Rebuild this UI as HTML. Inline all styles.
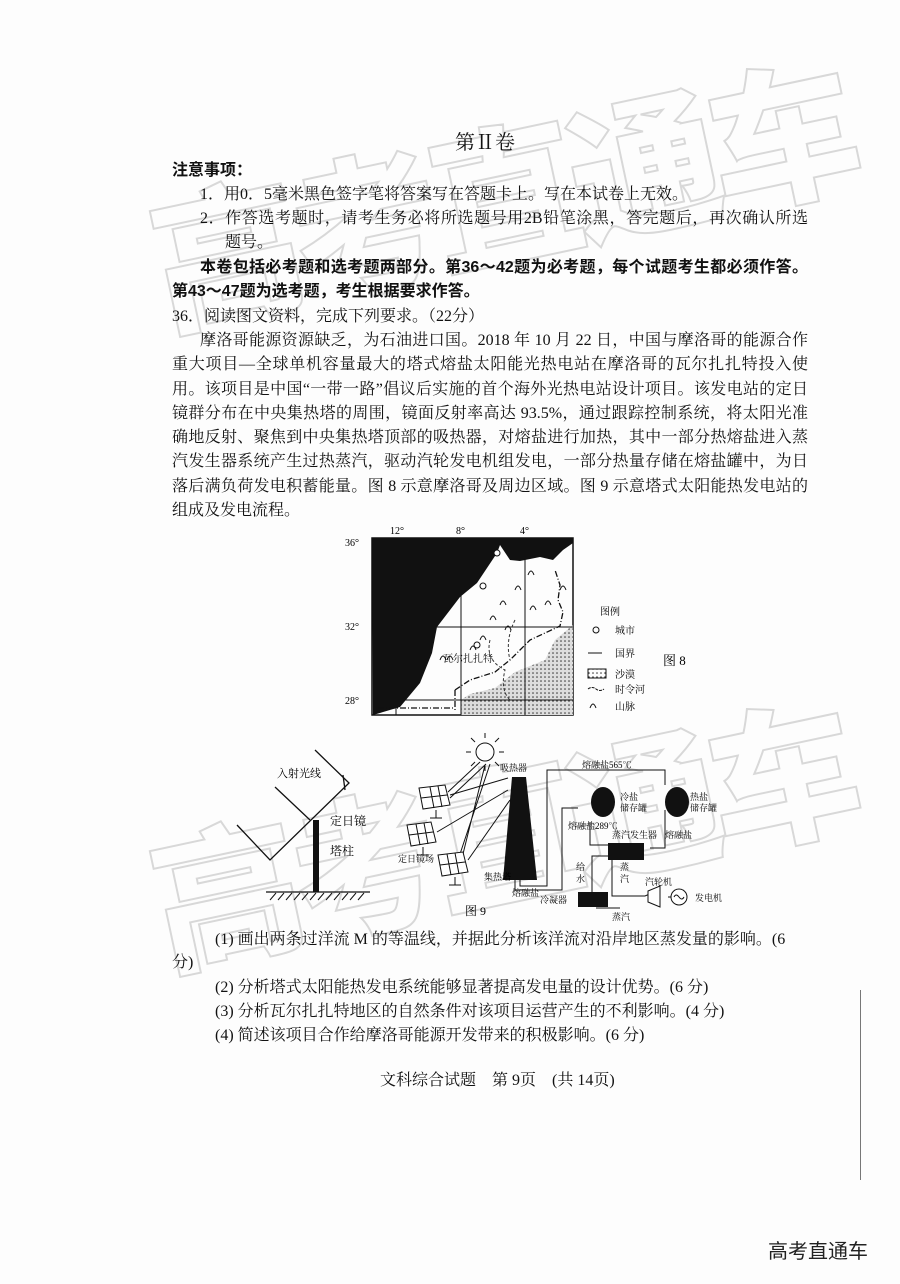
<!DOCTYPE html>
<html><head><meta charset="utf-8">
<style>
body{margin:0;background:#fff;}
#pg{position:relative;width:900px;height:1284px;overflow:hidden;background:#fdfdfd;font-family:"Liberation Serif","Noto Serif CJK SC","Noto Sans CJK SC",serif;color:#111;}
.l{position:absolute;font-size:16px;line-height:20px;white-space:nowrap;}
.j{text-align:justify;text-align-last:justify;white-space:normal;}
.b{font-weight:bold;font-family:"Liberation Sans","Noto Sans CJK SC",sans-serif;}
.wm{position:absolute;font-family:"Noto Sans CJK SC",sans-serif;font-weight:900;color:rgba(255,255,255,0);-webkit-text-stroke:2px #bbb;white-space:nowrap;}
svg text{font-family:"Liberation Serif","Noto Serif CJK SC",serif;}
</style></head><body><div id="pg">

<div class="wm" style="left:145px;top:80px;font-size:150px;letter-spacing:-8px;transform:rotate(-12deg);opacity:.55">高考直通车</div>
<div class="wm" style="left:145px;top:720px;font-size:150px;letter-spacing:-8px;transform:rotate(-12deg);opacity:.55">高考直通车</div>

<div class="l" style="left:455px;top:131px;font-size:20px;line-height:24px">第Ⅱ卷</div>
<div class="l b" style="left:172px;top:161px">注意事项：</div>
<div class="l" style="left:200px;top:185px">1．用0．5毫米黑色签字笔将答案写在答题卡上。写在本试卷上无效。</div>
<div class="l j" style="left:200px;top:209px;width:608px">2．作答选考题时，请考生务必将所选题号用2B铅笔涂黑，答完题后，再次确认所选</div>
<div class="l" style="left:225px;top:233px">题号。</div>
<div class="l j b" style="left:200px;top:258px;width:608px">本卷包括必考题和选考题两部分。第36～42题为必考题，每个试题考生都必须作答。</div>
<div class="l b" style="left:172px;top:282px">第43～47题为选考题，考生根据要求作答。</div>
<div class="l" style="left:172px;top:307px">36．阅读图文资料，完成下列要求。（22分）</div>
<div class="l j" style="left:200px;top:331px;width:608px">摩洛哥能源资源缺乏，为石油进口国。2018 年 10 月 22 日，中国与摩洛哥的能源合作</div>
<div class="l j" style="left:172px;top:355px;width:636px">重大项目—全球单机容量最大的塔式熔盐太阳能光热电站在摩洛哥的瓦尔扎扎特投入使</div>
<div class="l j" style="left:172px;top:380px;width:636px">用。该项目是中国“一带一路”倡议后实施的首个海外光热电站设计项目。该发电站的定日</div>
<div class="l j" style="left:172px;top:404px;width:636px">镜群分布在中央集热塔的周围，镜面反射率高达 93.5%，通过跟踪控制系统，将太阳光准</div>
<div class="l j" style="left:172px;top:428px;width:636px">确地反射、聚焦到中央集热塔顶部的吸热器，对熔盐进行加热，其中一部分热熔盐进入蒸</div>
<div class="l j" style="left:172px;top:452px;width:636px">汽发生器系统产生过热蒸汽，驱动汽轮发电机组发电，一部分热量存储在熔盐罐中，为日</div>
<div class="l j" style="left:172px;top:477px;width:636px">落后满负荷发电积蓄能量。图 8 示意摩洛哥及周边区域。图 9 示意塔式太阳能热发电站的</div>
<div class="l" style="left:172px;top:501px">组成及发电流程。</div>

<svg style="position:absolute;left:0;top:0" width="900" height="1284">
<g font-size="10">
<text x="390" y="534">12°</text><text x="456" y="534">8°</text><text x="520" y="534">4°</text>
<text x="345" y="546">36°</text><text x="345" y="630">32°</text><text x="345" y="704">28°</text>
</g>
<rect x="372" y="538" width="201" height="177" fill="none" stroke="#111" stroke-width="1.5"/>
<polygon points="573,625 555,640 545,660 515,672 495,688 470,694 461,700 461,715 573,715" fill="#ddd"/>
<pattern id="dt" width="4" height="4" patternUnits="userSpaceOnUse"><circle cx="1" cy="1" r=".8" fill="#333"/></pattern>
<polygon points="573,625 555,640 545,660 515,672 495,688 470,694 461,700 461,715 573,715" fill="url(#dt)"/>
<polygon points="372,538 573,538 573,543 563,550 553,560 540,557 520,561 510,560 500,545 497,553 477,583 460,597 437,627 432,653 420,683 400,707 373,715" fill="#111"/>
<g stroke="#111" stroke-width="1">
<line x1="396" y1="538" x2="396" y2="715"/><line x1="461" y1="538" x2="461" y2="715"/><line x1="525" y1="538" x2="525" y2="715"/>
<line x1="437" y1="627" x2="573" y2="627"/><line x1="373" y1="700" x2="573" y2="700"/>
</g>
<path d="M455,690 L470,680 L495,672 L510,660 L520,650 L530,640 L545,633 L560,626 L563,612 L558,600 L560,585 L555,570" fill="none" stroke="#111" stroke-width="1.3" stroke-dasharray="6,2,1,2"/>
<path d="M455,690 L455,712 M378,708 L455,708" fill="none" stroke="#111" stroke-width="1.3" stroke-dasharray="6,2,1,2"/>
<path d="M490,640 Q485,660 505,670 Q500,690 510,700 M515,620 Q505,640 510,660" fill="none" stroke="#333" stroke-dasharray="3,2"/>
<g fill="none" stroke="#111" stroke-width="1">
<path d="M440,660 q3,-8 6,0 M447,660 q3,-8 6,0 M470,650 q3,-8 6,0 M490,620 q3,-8 6,0 M500,605 q3,-8 6,0 M515,590 q3,-8 6,0 M528,575 q3,-8 6,0 M505,630 q3,-8 6,0 M530,610 q3,-8 6,0 M545,605 q3,-8 6,0 M560,590 q3,-8 6,0 M480,640 q3,-8 6,0"/>
</g>
<circle cx="497" cy="553" r="3" fill="#fff" stroke="#111"/><circle cx="483" cy="586" r="3" fill="#fff" stroke="#111"/><circle cx="477" cy="645" r="3" fill="#fff" stroke="#111"/>
<text x="443" y="662" font-size="10" fill="#111">瓦尔扎扎特</text>
<g font-size="10">
<text x="600" y="615">图例</text>
<circle cx="596" cy="630" r="3" fill="none" stroke="#111"/><text x="615" y="634">城市</text>
<line x1="588" y1="653" x2="602" y2="653" stroke="#111"/><text x="615" y="657">国界</text>
<rect x="588" y="669" width="18" height="9" fill="url(#dt)" stroke="#111"/><text x="615" y="678">沙漠</text>
<path d="M588,689 q4,-3 8,0 t8,0" fill="none" stroke="#111" stroke-dasharray="3,1"/><text x="615" y="693">时令河</text>
<path d="M590,708 q3,-8 6,0" fill="none" stroke="#111"/><text x="615" y="710">山脉</text>
</g>
<text x="663" y="665" font-size="13" font-family="Liberation Sans, Noto Sans CJK SC, sans-serif">图 8</text>

<!-- Figure 9 left -->
<g stroke="#111" fill="none" stroke-width="1.3">
<line x1="266" y1="892" x2="370" y2="892"/>
<path d="M270,900 l6,-7 M278,900 l6,-7 M286,900 l6,-7 M294,900 l6,-7 M302,900 l6,-7 M310,900 l6,-7 M318,900 l6,-7 M326,900 l6,-7 M334,900 l6,-7 M342,900 l6,-7 M350,900 l6,-7 M358,900 l6,-7" stroke-width="1"/>
<path d="M237,825 L270,860 L349,783 L315,750"/>
<path d="M275,787 L310,820"/>
<path d="M343,775 L345,790"/>
</g>
<rect x="313" y="820" width="6" height="72" fill="#111"/>
<text x="277" y="777" font-size="11">入射光线</text>
<text x="330" y="825" font-size="12">定日镜</text>
<text x="330" y="855" font-size="12">塔柱</text>

<!-- Figure 9 right -->
<g stroke="#111" fill="none" stroke-width="1">
<circle cx="485" cy="752" r="9"/>
<path d="M485,738 v-5 M485,766 v5 M471,752 h-5 M499,752 h5 M475,742 l-4,-4 M495,742 l4,-4 M475,762 l-4,4 M495,762 l4,4"/>
<path d="M448,792 L480,762 M450,798 L486,764 M462,858 L485,765 M458,860 L490,764"/>
<path d="M450,795 L508,778 M437,832 L508,790 M468,860 L510,800"/>
</g>
<g fill="#fff" stroke="#111" stroke-width="1">
<polygon points="419,788 445,785 450,805 423,809"/>
<path d="M421,798 L447,795 M430,787 L434,808 M438,786 L442,807" />
<polygon points="407,825 431,822 436,842 411,846"/>
<path d="M409,835 L433,832 M416,824 L420,845 M424,823 L428,844"/>
<polygon points="438,855 463,852 468,872 442,876"/>
<path d="M440,865 L465,862 M447,854 L451,875 M455,853 L459,874"/>
<path d="M436,810 v8 M430,818 h12 M423,847 v8 M417,855 h12 M455,877 v8 M449,885 h12"/>
</g>
<polygon points="512,777 526,777 537,880 503,880" fill="#111"/>
<text x="500" y="771" font-size="9">吸热器</text>
<text x="398" y="862" font-size="9">定日镜场</text>
<text x="484" y="880" font-size="9">集热塔</text>
<text x="512" y="896" font-size="9">熔融盐</text>
<text x="465" y="915" font-size="12">图 9</text>
<g stroke="#111" fill="none" stroke-width="1">
<path d="M520,880 L520,886 L547,886 L547,770 L665,770 L665,785"/>
<path d="M515,880 L515,890 L562,890 L562,808 L578,808"/>
<path d="M665,810 L665,848 L650,848"/>
<path d="M590,822 L590,845 L608,845"/>
<path d="M592,892 L592,856 L608,856"/>
<path d="M612,857 L612,896 L645,896 L652,893"/>
<path d="M620,908 L596,908"/>
<path d="M668,897 L675,897"/>
</g>
<ellipse cx="603" cy="802" rx="12" ry="15" fill="#111"/>
<ellipse cx="677" cy="802" rx="12" ry="15" fill="#111"/>
<rect x="608" y="843" width="36" height="17" fill="#111"/>
<rect x="578" y="892" width="30" height="15" fill="#111"/>
<polygon points="648,891 660,886 660,907 648,902" fill="#fff" stroke="#111"/>
<circle cx="679" cy="897" r="8" fill="#fff" stroke="#111"/>
<path d="M674,897 q2,-4 5,0 t5,0" fill="none" stroke="#111"/>
<g font-size="9">
<text x="582" y="768">熔融盐565℃</text>
<text x="620" y="800">冷盐</text><text x="620" y="811">储存罐</text>
<text x="690" y="800">热盐</text><text x="690" y="811">储存罐</text>
<text x="568" y="829">熔融盐289℃</text>
<text x="612" y="838">蒸汽发生器</text>
<text x="665" y="838">熔融盐</text>
<text x="576" y="870">给</text><text x="576" y="882">水</text>
<text x="620" y="870">蒸</text><text x="620" y="882">汽</text>
<text x="540" y="903">冷凝器</text>
<text x="612" y="920">蒸汽</text>
<text x="645" y="885">汽轮机</text>
<text x="695" y="901">发电机</text>
</g>
</svg>

<div class="l" style="left:215px;top:930px">(1) 画出两条过洋流 M 的等温线，并据此分析该洋流对沿岸地区蒸发量的影响。(6</div>
<div class="l" style="left:172px;top:953px">分)</div>
<div class="l" style="left:215px;top:978px">(2) 分析塔式太阳能热发电系统能够显著提高发电量的设计优势。(6 分)</div>
<div class="l" style="left:215px;top:1002px">(3) 分析瓦尔扎扎特地区的自然条件对该项目运营产生的不利影响。(4 分)</div>
<div class="l" style="left:215px;top:1026px">(4) 简述该项目合作给摩洛哥能源开发带来的积极影响。(6 分)</div>
<div class="l" style="left:380px;top:1071px">文科综合试题　第 9页　(共 14页)</div>
<div style="position:absolute;left:860px;top:990px;width:1px;height:190px;background:#777"></div>
<div class="l" style="left:768px;top:1238px;font-size:20px;line-height:24px;font-family:'Noto Sans CJK SC',sans-serif;color:#222">高考直通车</div>
</div></body></html>
